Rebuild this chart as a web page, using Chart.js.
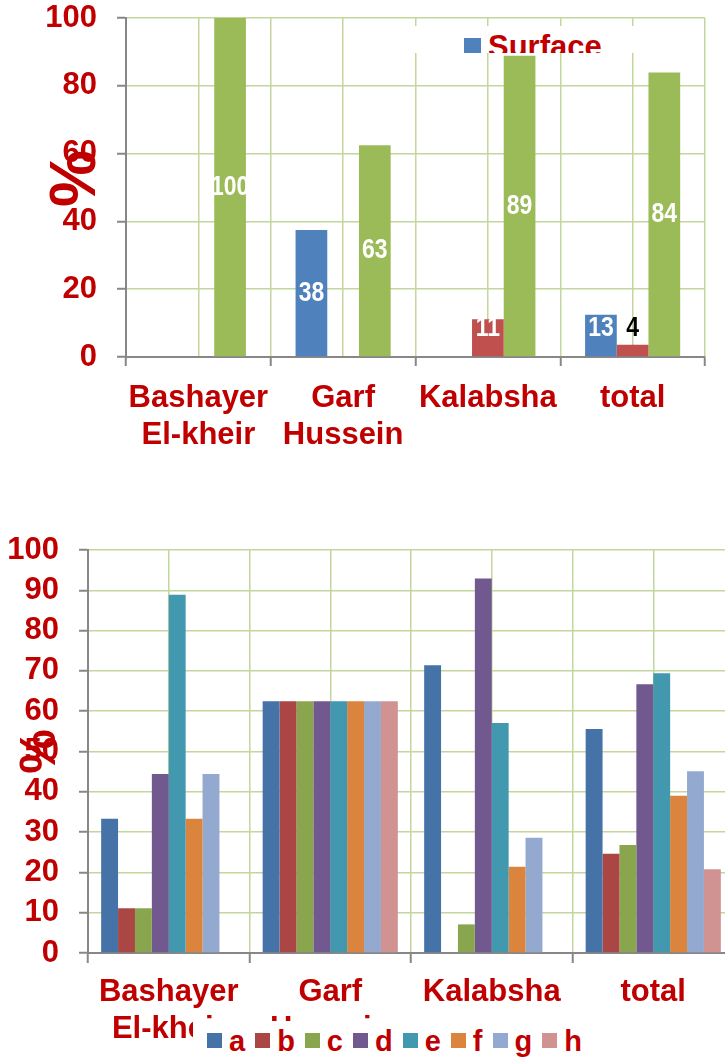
<!DOCTYPE html>
<html>
<head>
<meta charset="utf-8">
<script src="https://cdn.jsdelivr.net/npm/chart.js@4/dist/chart.umd.min.js"></script>
<style>
  html, body { margin: 0; padding: 0; background: #fff; overflow: hidden; }
  #page { position: relative; width: 725px; height: 1059px; overflow: hidden; }
  #c1 { position: absolute; left: 0; top: 0; }
  #c2 { position: absolute; left: 0; top: 500px; }
  .legend {
    position: absolute; background: #fff; overflow: hidden; white-space: nowrap;
    font-family: "Liberation Sans", Arial, sans-serif; font-weight: bold; color: #c00000;
  }
  .legend .box { display: inline-block; }
  #legend1 { left: 400px; top: 26px; width: 290px; height: 27px; font-size: 31px; line-height: 42px; }
  #legend1 .box { width: 17px; height: 17px; vertical-align: 2px; margin-left: 64px; margin-right: 7px; }
  #legend2 { left: 193px; top: 1021px; width: 400px; height: 38px; font-size: 29px; line-height: 40px; padding-left: 14px; box-sizing: border-box; }
  #legend2 .box { width: 15px; height: 15px; vertical-align: 3px; margin-right: 7px; }
  #legend2 .item { margin-right: 10px; }
</style>
</head>
<body>
<div id="page">
  <canvas id="c1" width="725" height="470"></canvas>
  <canvas id="c2" width="740" height="559"></canvas>
  <div class="legend" id="legend1"></div>
  <div class="legend" id="legend2"></div>
</div>
<script>
// categories (shared by both charts)
var categories = [["Bashayer", "El-kheir"], ["Garf", "Hussein"], "Kalabsha", "total"];

// top chart
var topNames = ["Surface", "Series 2", "Series 3"];
var topColors = ["#4f81bd", "#c0504d", "#9bbb59"];
var topSurface = [null, 37.5, null, 12.5];
var topSeries2 = [null, null, 11.1, 3.6];
var topSeries3 = [100, 62.5, 88.9, 83.9];
var topTicks = [0, 20, 40, 60, 80, 100];

// bottom chart
var bottomNames = ["a", "b", "c", "d", "e", "f", "g", "h"];
var bottomColors = ["#4572a7", "#aa4643", "#89a54e", "#71588f", "#4198af", "#db843d", "#93a9cf", "#d19392"];
var serieA = [33.3, 62.5, 71.4, 55.6];
var serieB = [11.1, 62.5, null, 24.6];
var serieC = [11.1, 62.5, 7.1, 26.8];
var serieD = [44.4, 62.5, 92.9, 66.7];
var serieE = [88.9, 62.5, 57.1, 69.4];
var serieF = [33.3, 62.5, 21.4, 39.0];
var serieG = [44.4, 62.5, 28.6, 45.1];
var serieH = [null, 62.5, null, 20.8];
var bottomTicks = [0, 10, 20, 30, 40, 50, 60, 70, 80, 90, 100];

var red = "#c00000";
var gridGreen = "#c3d69b";
var axisGray = "#878787";

Chart.defaults.font.family = '"Liberation Sans", Arial, sans-serif';
Chart.defaults.color = red;

// value labels drawn inside the bars (top chart), narrow bold digits
var valueLabels = {
    id: "valueLabels",
    afterDatasetsDraw: function(chart) {
        var ctx = chart.ctx;
        chart.data.datasets.forEach(function(ds, i) {
            chart.getDatasetMeta(i).data.forEach(function(bar, j) {
                var v = ds.data[j];
                if (v === null) return;
                var h = bar.base - bar.y;
                var y = Math.min((bar.y + bar.base) / 2, bar.base - 28);
                ctx.save();
                ctx.font = 'bold 28px "Liberation Sans", Arial, sans-serif';
                ctx.textAlign = "center";
                ctx.textBaseline = "middle";
                ctx.fillStyle = h < 25 ? "#000000" : "#ffffff";
                ctx.translate(bar.x, y);
                ctx.scale(0.82, 1);
                ctx.fillText(Math.round(v), 0, 0);
                ctx.restore();
            });
        });
    }
};

function makeScales(ticks, step, yWidth, xHeight, titleSize, titlePad, tickLen, xPad, titleText) {
    return {
        x: {
            offset: true,
            grid: { offset: true, color: gridGreen, lineWidth: 1.5, tickColor: axisGray, tickLength: tickLen, tickWidth: 2 },
            border: { color: axisGray, width: 2 },
            ticks: { font: { size: 31, weight: "bold" }, color: red, padding: xPad, maxRotation: 0, autoSkip: false },
            afterFit: function(s) { s.height = xHeight; }
        },
        x2: {
            type: "category",
            labels: categories,
            position: "top",
            offset: true,
            grid: { offset: false, color: gridGreen, lineWidth: 1.5, drawTicks: false },
            border: { display: false },
            ticks: { display: false },
            afterFit: function(s) { s.height = 0; }
        },
        y: {
            min: ticks[0],
            max: ticks[ticks.length - 1],
            ticks: { stepSize: step, font: { size: 31, weight: "bold" }, color: red, padding: 20 },
            grid: { color: gridGreen, lineWidth: 1.5, tickColor: axisGray, tickLength: 9, tickWidth: 2 },
            border: { color: axisGray, width: 2 },
            title: { display: true, text: titleText, color: red, font: { size: titleSize, weight: "bold" }, padding: { top: titlePad, bottom: 0 } },
            afterFit: function(s) { s.width = yWidth; s.paddingTop = 18; }
        }
    };
}

// Chart 1
var topData = [topSurface, topSeries2, topSeries3];
new Chart(document.getElementById("c1"), {
    type: "bar",
    data: {
        labels: categories,
        datasets: topData.map(function(d, i) {
            return { label: topNames[i], data: d, backgroundColor: topColors[i], xAxisID: "x", borderWidth: 0 };
        })
    },
    options: {
        responsive: false,
        animation: false,
        layout: { padding: { top: 0, right: 20, left: 0, bottom: 0 } },
        datasets: { bar: { categoryPercentage: 0.657, barPercentage: 1 } },
        plugins: { legend: { display: false }, tooltip: { enabled: false } },
        scales: makeScales(topTicks, 20, 126, 113, 64, 39, 9, 14, " %")
    },
    plugins: [valueLabels]
});

// Chart 2
var bottomData = [serieA, serieB, serieC, serieD, serieE, serieF, serieG, serieH];
new Chart(document.getElementById("c2"), {
    type: "bar",
    data: {
        labels: categories,
        datasets: bottomData.map(function(d, i) {
            return { label: bottomNames[i], data: d, backgroundColor: bottomColors[i], xAxisID: "x", borderWidth: 0 };
        })
    },
    options: {
        responsive: false,
        animation: false,
        layout: { padding: { top: 50, right: 6, left: 0, bottom: 0 } },
        datasets: { bar: { categoryPercentage: 0.837, barPercentage: 1 } },
        plugins: { legend: { display: false }, tooltip: { enabled: false } },
        scales: makeScales(bottomTicks, 10, 88, 106, 50, 11, 10, 11, "%")
    }
});

// legends (HTML, over the charts)
var l1 = document.getElementById("legend1");
l1.innerHTML = '<span class="box" style="background:' + topColors[0] + '"></span>' + topNames[0];

var l2 = document.getElementById("legend2");
l2.innerHTML = bottomNames.map(function(n, i) {
    return '<span class="item"><span class="box" style="background:' + bottomColors[i] + '"></span>' + n + '</span>';
}).join("");
</script>
</body>
</html>
